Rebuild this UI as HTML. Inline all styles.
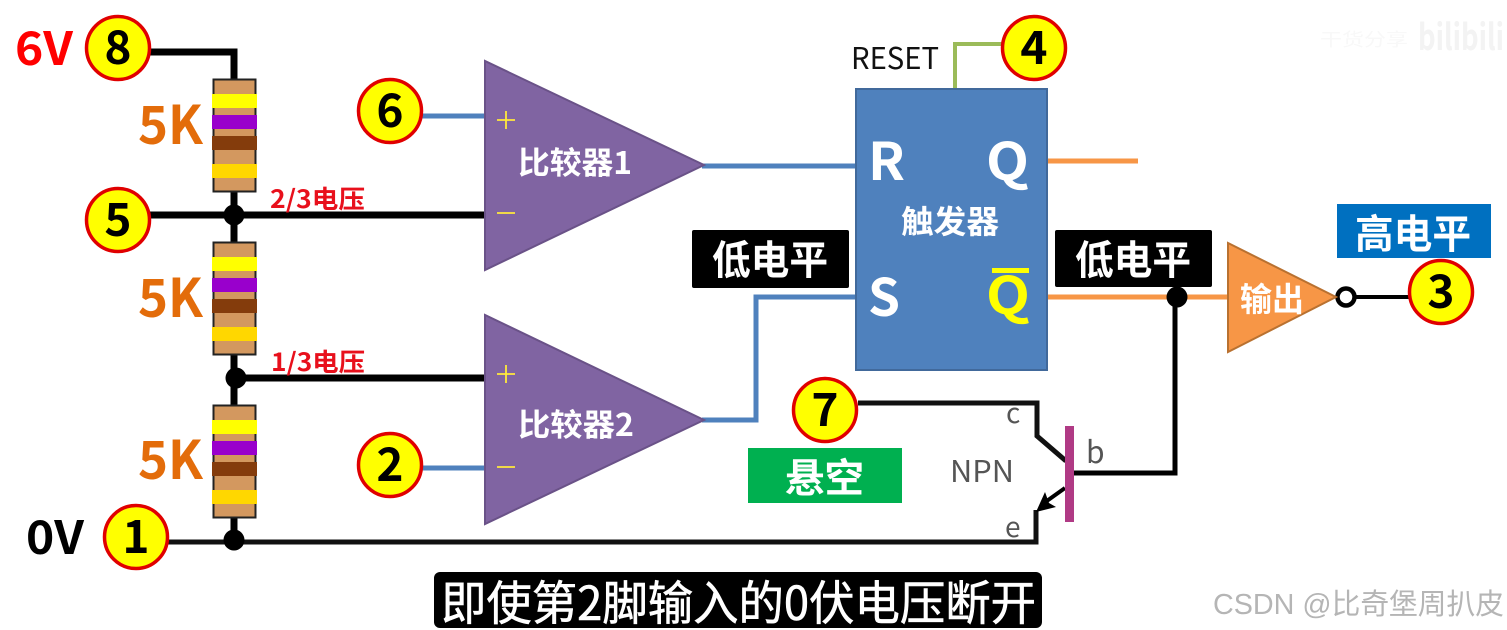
<!DOCTYPE html>
<html><head><meta charset="utf-8"><style>
html,body{margin:0;padding:0;background:#fff;width:1507px;height:630px;overflow:hidden}
svg{display:block}
text{font-family:"Liberation Sans","Noto Sans CJK SC",sans-serif}
.c{font-family:"Noto Sans CJK SC","Liberation Sans",sans-serif;font-weight:700}
.n{font-family:"Noto Sans CJK SC","Liberation Sans",sans-serif;font-weight:400}
.num{font-family:"Noto Sans CJK SC",sans-serif;font-weight:700;font-size:46px;text-anchor:middle;fill:#000}
</style></head><body>
<svg width="1507" height="630" viewBox="0 0 1507 630" xmlns="http://www.w3.org/2000/svg">
<rect width="1507" height="630" fill="#fff"/>
<!-- black wires -->
<g fill="none" stroke="#000" stroke-linejoin="miter">
<path d="M150 52H234V80" stroke-width="7"/>
<path d="M234 190V244" stroke-width="7"/>
<path d="M150 215H486" stroke-width="7"/>
<path d="M234 352V407" stroke-width="7"/>
<path d="M234 378H486" stroke-width="7"/>
<path d="M234 516V541" stroke-width="7"/>
<path d="M168 542H1036V510" stroke-width="5" stroke="#111"/>
<path d="M858 403H1037V436L1066 461" stroke-width="5" stroke="#111"/>
<path d="M1072 473H1175V296" stroke-width="5"/>
<path d="M1350 297H1412" stroke-width="4"/>
<path d="M1065 488L1044 503" stroke-width="4"/>
</g>
<path d="M1036 512L1045 492L1049 503L1056 507Z" fill="#000"/>
<!-- blue/green/orange wires -->
<g fill="none">
<path d="M420 116H486" stroke="#4f81bd" stroke-width="5"/>
<path d="M420 468H486" stroke="#4f81bd" stroke-width="5"/>
<path d="M702 166H857" stroke="#4f81bd" stroke-width="5"/>
<path d="M702 420H756V297H857" stroke="#4f81bd" stroke-width="5"/>
<path d="M955 89V44H1004" stroke="#9bbb59" stroke-width="4"/>
<path d="M1047 161H1138" stroke="#f79646" stroke-width="5"/>
<path d="M1047 297H1230" stroke="#f79646" stroke-width="5"/>
</g>
<!-- resistors -->
<g>
<rect x="213.5" y="79.5" width="42" height="112" fill="#d3985f" stroke="#222" stroke-width="2"/>
<rect x="212" y="94" width="45" height="14" fill="#ff0"/>
<rect x="212" y="115" width="45" height="14" fill="#90c"/>
<rect x="212" y="136" width="45" height="14" fill="#843c0c"/>
<rect x="212" y="164" width="45" height="14" fill="#ffd700"/>
</g>
<g>
<rect x="213.5" y="242.5" width="42" height="112" fill="#d3985f" stroke="#222" stroke-width="2"/>
<rect x="212" y="257" width="45" height="14" fill="#ff0"/>
<rect x="212" y="278" width="45" height="14" fill="#90c"/>
<rect x="212" y="299" width="45" height="14" fill="#843c0c"/>
<rect x="212" y="327" width="45" height="14" fill="#ffd700"/>
</g>
<g>
<rect x="213.5" y="405.5" width="42" height="112" fill="#d3985f" stroke="#222" stroke-width="2"/>
<rect x="212" y="420" width="45" height="14" fill="#ff0"/>
<rect x="212" y="441" width="45" height="14" fill="#90c"/>
<rect x="212" y="462" width="45" height="14" fill="#843c0c"/>
<rect x="212" y="490" width="45" height="14" fill="#ffd700"/>
</g>
<!-- junctions -->
<circle cx="234" cy="215" r="10.5" fill="#000"/>
<circle cx="236" cy="378" r="10.5" fill="#000"/>
<circle cx="234" cy="540" r="10.5" fill="#000"/>
<circle cx="1177" cy="297" r="10.5" fill="#000"/>
<circle cx="1346" cy="297" r="8.5" fill="#fff" stroke="#000" stroke-width="4.5"/>
<!-- comparators -->
<path d="M485 61V270L704 165Z" fill="#8064a2" stroke="#6a5288" stroke-width="2"/>
<path d="M485 315V524L704 420Z" fill="#8064a2" stroke="#6a5288" stroke-width="2"/>
<g stroke="#ffe93b" stroke-width="1.8" fill="none">
<path d="M497 120H515M506 111V129"/>
<path d="M497 213H515"/>
<path d="M497 374H515M506 365V383"/>
<path d="M497 467H515"/>
</g>
<text class="c" x="518" y="174" font-size="31" fill="#fff" textLength="114" lengthAdjust="spacingAndGlyphs">比较器1</text>
<text class="c" x="518" y="436" font-size="31" fill="#fff" textLength="116" lengthAdjust="spacingAndGlyphs">比较器2</text>
<!-- flip-flop -->
<rect x="856" y="89" width="191" height="281" fill="#4f81bd" stroke="#41699b" stroke-width="2"/>
<text class="c" x="868" y="180" font-size="52" fill="#fff" textLength="37" lengthAdjust="spacingAndGlyphs">R</text>
<text class="c" x="986" y="180" font-size="52" fill="#fff" textLength="43" lengthAdjust="spacingAndGlyphs">Q</text>
<text class="c" x="868" y="316" font-size="52" fill="#fff" textLength="32" lengthAdjust="spacingAndGlyphs">S</text>
<text class="c" x="986" y="314" font-size="52" fill="#ff0" textLength="44" lengthAdjust="spacingAndGlyphs">Q</text>
<rect x="992" y="268" width="37" height="5" fill="#ff0"/>
<text class="c" x="901" y="233" font-size="32" fill="#fff" textLength="98" lengthAdjust="spacingAndGlyphs">触发器</text>
<text class="n" x="851" y="69" font-size="30" fill="#111" textLength="88" lengthAdjust="spacingAndGlyphs">RESET</text>
<!-- labels -->
<rect x="692" y="230" width="157" height="58" rx="2" fill="#000"/>
<text class="c" x="712" y="274" font-size="40" fill="#fff" textLength="116" lengthAdjust="spacingAndGlyphs">低电平</text>
<rect x="1055" y="230" width="157" height="57" rx="2" fill="#000"/>
<text class="c" x="1075" y="274" font-size="40" fill="#fff" textLength="116" lengthAdjust="spacingAndGlyphs">低电平</text>
<rect x="1337" y="204" width="154" height="54" fill="#0070c0"/>
<text class="c" x="1355" y="248" font-size="40" fill="#fff" textLength="116" lengthAdjust="spacingAndGlyphs">高电平</text>
<rect x="748" y="448" width="154" height="55" fill="#00b050"/>
<text class="c" x="785" y="492" font-size="40" fill="#fff" textLength="79" lengthAdjust="spacingAndGlyphs">悬空</text>
<!-- output buffer -->
<path d="M1228 243V352L1336 297Z" fill="#f79646" stroke="#b97130" stroke-width="2"/>
<text class="c" x="1240" y="311" font-size="33" fill="#fff" textLength="64" lengthAdjust="spacingAndGlyphs">输出</text>
<!-- transistor -->
<rect x="1065" y="426" width="9" height="96" fill="#b03a85"/>
<text class="n" x="1006" y="423" font-size="28" fill="#555">c</text>
<text class="n" x="1005" y="537" font-size="28" fill="#555">e</text>
<text class="n" x="1086" y="463" font-size="30" fill="#555">b</text>
<text class="n" x="950" y="482" font-size="30" fill="#555" textLength="64" lengthAdjust="spacingAndGlyphs">NPN</text>
<!-- voltage labels -->
<text class="c" x="15" y="65" font-size="46" fill="#f00" textLength="58" lengthAdjust="spacingAndGlyphs">6V</text>
<text class="c" x="26" y="554" font-size="46" fill="#000" textLength="58" lengthAdjust="spacingAndGlyphs">0V</text>
<text class="c" x="138" y="144" font-size="53" fill="#e36c0a" textLength="65" lengthAdjust="spacingAndGlyphs">5K</text>
<text class="c" x="138" y="317" font-size="53" fill="#e36c0a" textLength="65" lengthAdjust="spacingAndGlyphs">5K</text>
<text class="c" x="138" y="479" font-size="53" fill="#e36c0a" textLength="65" lengthAdjust="spacingAndGlyphs">5K</text>
<text class="c" x="270" y="208" font-size="25" fill="#e8101c" textLength="95" lengthAdjust="spacingAndGlyphs">2/3电压</text>
<text class="c" x="271" y="371" font-size="25" fill="#e8101c" textLength="94" lengthAdjust="spacingAndGlyphs">1/3电压</text>
<!-- numbered circles -->
<g fill="#ff0" stroke="#e00000" stroke-width="3.5">
<circle cx="118" cy="48" r="31.5"/>
<circle cx="118" cy="220" r="31.5"/>
<circle cx="136" cy="537" r="31.5"/>
<circle cx="390" cy="111" r="31.5"/>
<circle cx="390" cy="465" r="31.5"/>
<circle cx="825" cy="410" r="31.5"/>
<circle cx="1034" cy="48" r="31.5"/>
<circle cx="1441" cy="292" r="31.5"/>
</g>
<text class="num" x="118" y="64">8</text>
<text class="num" x="118" y="236">5</text>
<text class="num" x="136" y="553">1</text>
<text class="num" x="390" y="127">6</text>
<text class="num" x="390" y="481">2</text>
<text class="num" x="825" y="426">7</text>
<text class="num" x="1034" y="64">4</text>
<text class="num" x="1441" y="308">3</text>
<!-- caption -->
<rect x="434" y="572" width="608" height="56" rx="6" fill="#000"/>
<text class="n" x="441" y="620" font-size="47" fill="#fff" stroke="#fff" stroke-width="0.6" textLength="595" lengthAdjust="spacingAndGlyphs">即使第2脚输入的0伏电压断开</text>
<!-- watermarks -->
<text x="1213" y="614" font-size="29" fill="#b5b5b5" textLength="291" lengthAdjust="spacingAndGlyphs">CSDN @比奇堡周扒皮</text>
<text class="c" x="1418" y="50" font-size="36" fill="#f3f3f3" textLength="86" lengthAdjust="spacingAndGlyphs">bilibili</text>
<text x="1320" y="46" font-size="18" fill="#f8f8f8" textLength="88" lengthAdjust="spacingAndGlyphs">干货分享</text>
</svg>
</body></html>
